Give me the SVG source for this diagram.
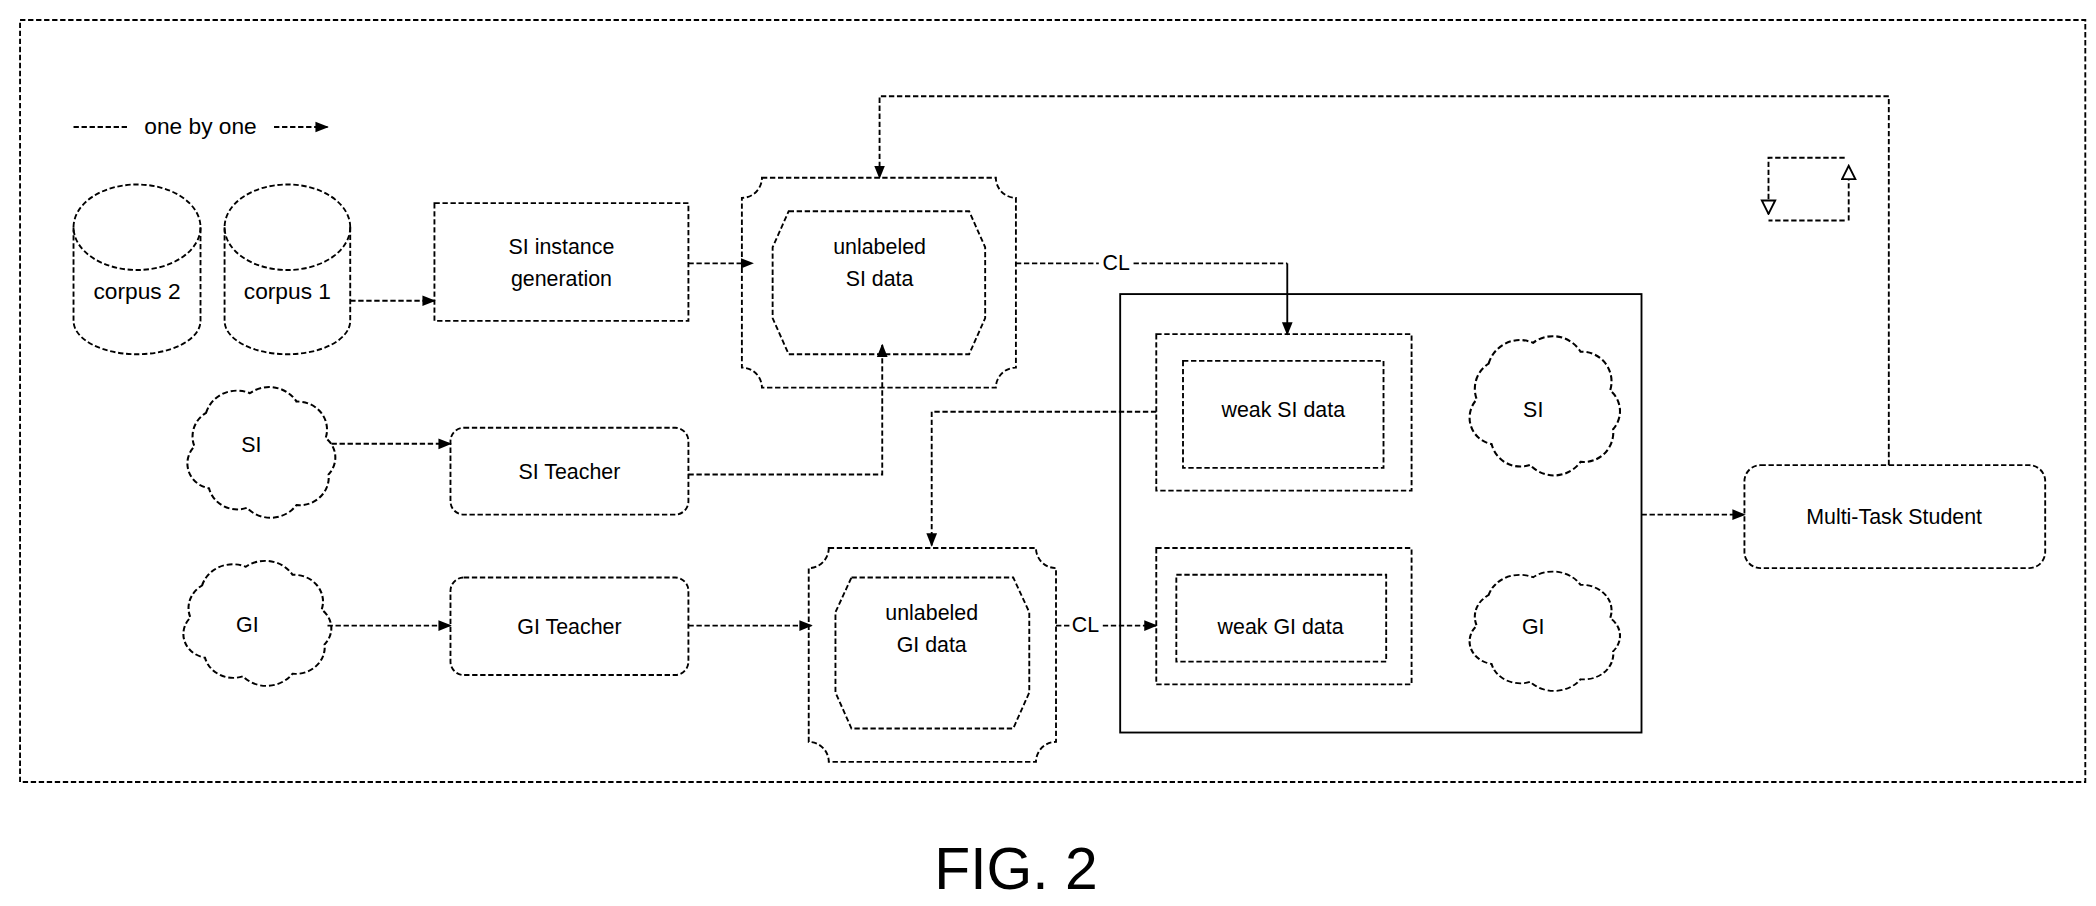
<svg xmlns="http://www.w3.org/2000/svg" width="2096" height="906" viewBox="0 0 2096 906">
<style>
.d{fill:none;stroke:#000;stroke-width:1.4;stroke-dasharray:4 2}
.s{fill:none;stroke:#000;stroke-width:1.4}
.t{font-family:"Liberation Sans",Arial,sans-serif;font-size:16px;fill:#000;text-anchor:middle}
</style>
<defs>
<marker id="a" markerWidth="10" markerHeight="10" refX="9" refY="5" orient="auto" markerUnits="userSpaceOnUse"><path d="M0,1 L10,5 L0,9 z" fill="#000"/></marker>
<marker id="o" markerWidth="12" markerHeight="12" refX="11" refY="6" orient="auto" markerUnits="userSpaceOnUse"><path d="M1,1 L11,6 L1,11 z" fill="#fff" stroke="#000" stroke-width="1.4"/></marker>
<symbol id="cloud" viewBox="6 4 110 88" preserveAspectRatio="none" overflow="visible"><path class="d" d="M30,22 a22,22 0 0 1 30,-14 a22,22 0 0 1 32,6 a20,20 0 0 1 20,26 a18,18 0 0 1 2,26 a20,20 0 0 1 -22,22 a22,22 0 0 1 -34,2 a20,20 0 0 1 -26,-14 a18,18 0 0 1 -10,-30 a20,20 0 0 1 8,-24 z"/></symbol>
</defs>
<rect width="2096" height="906" fill="#fff"/>
<g transform="scale(1.33673)">
<rect id="frame" class="d" x="15" y="15" width="1545" height="570"/>
<g id="legend">
<line class="d" x1="55" y1="95" x2="95" y2="95"/>
<text class="t" x="150" y="100" style="font-size:17px">one by one</text>
<line class="d" x1="205" y1="95" x2="245" y2="95" marker-end="url(#a)"/>
</g>
<g id="corpus2">
<path class="d" d="M55,170 V240 A47.5,25 0 0 0 150,240 V170"/>
<ellipse class="d" cx="102.5" cy="170" rx="47.5" ry="32"/>
<text class="t" x="102.5" y="224" style="font-size:17px">corpus 2</text>
</g>
<g id="corpus1">
<path class="d" d="M168,170 V240 A47,25 0 0 0 262,240 V170"/>
<ellipse class="d" cx="215" cy="170" rx="47" ry="32"/>
<text class="t" x="215" y="224" style="font-size:17px">corpus 1</text>
</g>
<g id="sigen">
<rect class="d" x="325" y="152" width="190" height="88"/>
<text class="t" x="420" y="190">SI instance</text>
<text class="t" x="420" y="214">generation</text>
</g>
<g id="unlSI">
<path class="d" d="M570,133 H745 A15,15 0 0 0 760,148 V275 A15,15 0 0 0 745,290 H570 A15,15 0 0 0 555,275 V148 A15,15 0 0 0 570,133 Z"/>
<path class="d" d="M590,158 H725 L737,185 V238 L725,265 H590 L578,238 V185 Z"/>
<text class="t" x="658" y="190">unlabeled</text>
<text class="t" x="658" y="214">SI data</text>
</g>
<g id="siCloud"><use href="#cloud" x="128" y="290" width="120" height="92"/><text class="t" x="188" y="338">SI</text></g>
<g id="siTeacher"><rect class="d" x="337" y="320" width="178" height="65" rx="10"/><text class="t" x="426" y="358">SI Teacher</text></g>
<g id="giCloud"><use href="#cloud" x="125" y="420" width="120" height="88"/><text class="t" x="185" y="473">GI</text></g>
<g id="giTeacher"><rect class="d" x="337" y="432" width="178" height="73" rx="10"/><text class="t" x="426" y="474">GI Teacher</text></g>
<g id="unlGI">
<path class="d" d="M620,410 H775 A15,15 0 0 0 790,425 V555 A15,15 0 0 0 775,570 H620 A15,15 0 0 0 605,555 V425 A15,15 0 0 0 620,410 Z"/>
<path class="d" d="M637,432 H758 L770,458 V518 L758,545 H637 L625,518 V458 Z"/>
<text class="t" x="697" y="464">unlabeled</text>
<text class="t" x="697" y="488">GI data</text>
</g>
<g id="container"><rect class="s" x="838" y="220" width="390" height="328"/></g>
<g id="weakSI">
<rect class="d" x="865" y="250" width="191" height="117"/>
<rect class="d" x="885" y="270" width="150" height="80"/>
<text class="t" x="960" y="312">weak SI data</text>
</g>
<g id="siCloud2"><use href="#cloud" x="1087" y="252" width="122" height="98"/><text class="t" x="1147" y="312">SI</text></g>
<g id="weakGI">
<rect class="d" x="865" y="410" width="191" height="102"/>
<rect class="d" x="880" y="430" width="157" height="65"/>
<text class="t" x="958" y="474">weak GI data</text>
</g>
<g id="giCloud2"><use href="#cloud" x="1087" y="428" width="122" height="84"/><text class="t" x="1147" y="474">GI</text></g>
<g id="mts"><rect class="d" x="1305" y="348" width="225" height="77" rx="12"/><text class="t" x="1417" y="392">Multi-Task Student</text></g>
<g id="loop">
<polyline class="d" points="1380,165 1323,165"/>
<polyline class="d" points="1383,165 1383,124" marker-end="url(#o)"/>
<polyline class="d" points="1380,118 1323,118 1323,160" marker-end="url(#o)"/>
</g>
<g id="connectors">
<line class="d" x1="262" y1="225" x2="325" y2="225" marker-end="url(#a)"/>
<line class="d" x1="515" y1="197" x2="563" y2="197" marker-end="url(#a)"/>
<polyline class="d" points="1413,348 1413,72 658,72 658,133" marker-end="url(#a)"/>
<line class="d" x1="760" y1="197" x2="822" y2="197"/>
<text class="t" x="835" y="202">CL</text>
<polyline class="d" points="848,197 963,197"/>
<line class="s" x1="963" y1="197" x2="963" y2="250" marker-end="url(#a)"/>
<line class="d" x1="248" y1="332" x2="337" y2="332" marker-end="url(#a)"/>
<polyline class="d" points="515,355 660,355 660,258" marker-end="url(#a)"/>
<polyline class="d" points="865,308 697,308 697,408" marker-end="url(#a)"/>
<line class="d" x1="245" y1="468" x2="337" y2="468" marker-end="url(#a)"/>
<line class="d" x1="515" y1="468" x2="607" y2="468" marker-end="url(#a)"/>
<line class="d" x1="790" y1="468" x2="800" y2="468"/>
<text class="t" x="812" y="473">CL</text>
<line class="d" x1="825" y1="468" x2="865" y2="468" marker-end="url(#a)"/>
<line class="d" x1="1228" y1="385" x2="1305" y2="385" marker-end="url(#a)"/>
</g>
<text class="t" x="760" y="665" style="font-size:44px">FIG. 2</text>
</g>
</svg>
